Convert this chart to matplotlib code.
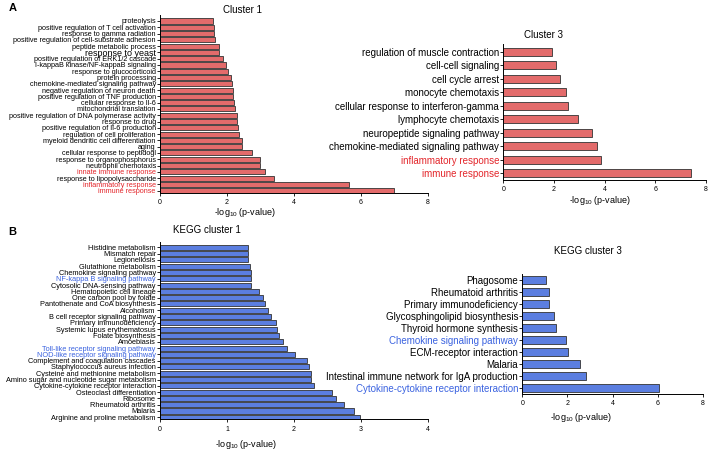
import numpy as np
import matplotlib.pyplot as plt

plt.rcParams['font.family'] = ['Liberation Sans', 'DejaVu Sans']
plt.rcParams['mathtext.default'] = 'regular'

# ---- data ----
go1_terms = ['proteolysis', 'positive regulation of T cell activation', 'response to gamma radiation',
             'positive regulation of cell-substrate adhesion', 'peptide metabolic process', 'response to yeast',
             'positive regulation of ERK1/2 cascade', 'I-kappaB kinase/NF-kappaB signaling',
             'response to glucocorticoid', 'protein processing', 'chemokine-mediated signaling pathway',
             'negative regulation of neuron death', 'positive regulation of TNF production',
             'cellular response to Il-6', 'mitochondrial translation',
             'positive regulation of DNA polymerase activity', 'response to drug',
             'positive regulation of Il-6 production', 'regulation of cell proliferation',
             'myeloid dendritic cell differentiation', 'aging', 'cellular response to peptidogl',
             'response to organophosphorus', 'neutrophil chemotaxis', 'innate immune response',
             'response to lipopolysaccharide', 'inflammatory response', 'immune response']
go1_vals = [1.59, 1.60, 1.61, 1.63, 1.76, 1.76, 1.89, 1.96, 2.04, 2.11, 2.14, 2.17, 2.17, 2.20,
            2.25, 2.31, 2.31, 2.34, 2.37, 2.45, 2.45, 2.74, 2.97, 2.98, 3.12, 3.40, 5.63, 6.98]
go1_red = ['innate immune response', 'inflammatory response', 'immune response']

go3_terms = ['regulation of muscle contraction', 'cell-cell signaling', 'cell cycle arrest',
             'monocyte chemotaxis', 'cellular response to interferon-gamma', 'lymphocyte chemotaxis',
             'neuropeptide signaling pathway', 'chemokine-mediated signaling pathway',
             'inflammatory response', 'immune response']
go3_vals = [1.91, 2.06, 2.25, 2.46, 2.57, 2.94, 3.48, 3.68, 3.87, 7.40]
go3_red = ['inflammatory response', 'immune response']

kegg1_terms = ['Histidine metabolism', 'Mismatch repair', 'Legionellosis', 'Glutathione metabolism',
               'Chemokine signaling pathway', 'NF-kappa B signaling pathway', 'Cytosolic DNA-sensing pathway',
               'Hematopoietic cell lineage', 'One carbon pool by folate', 'Pantothenate and CoA biosynthesis',
               'Alcoholism', 'B cell receptor signaling pathway', 'Primary immunodeficiency',
               'Systemic lupus erythematosus', 'Folate biosynthesis', 'Amoebiasis',
               'Toll-like receptor signaling pathway', 'NOD-like receptor signaling pathway',
               'Complement and coagulation cascades', 'Staphylococcus aureus infection',
               'Cysteine and methionine metabolism', 'Amino sugar and nucleotide sugar metabolism',
               'Cytokine-cytokine receptor interaction', 'Osteoclast differentiation', 'Ribosome',
               'Rheumatoid arthritis', 'Malaria', 'Arginine and proline metabolism']
kegg1_vals = [1.31, 1.31, 1.32, 1.34, 1.36, 1.36, 1.36, 1.47, 1.53, 1.57, 1.61, 1.66, 1.73, 1.74,
              1.78, 1.84, 1.89, 2.01, 2.20, 2.23, 2.26, 2.26, 2.30, 2.56, 2.62, 2.74, 2.90, 2.98]
kegg1_blue = ['NF-kappa B signaling pathway', 'Toll-like receptor signaling pathway',
              'NOD-like receptor signaling pathway']

kegg3_terms = ['Phagosome', 'Rheumatoid arthritis', 'Primary immunodeficiency',
               'Glycosphingolipid biosynthesis', 'Thyroid hormone synthesis', 'Chemokine signaling pathway',
               'ECM-receptor interaction', 'Malaria', 'Intestinal immune network for IgA production',
               'Cytokine-cytokine receptor interaction']
kegg3_vals = [1.04, 1.18, 1.19, 1.41, 1.48, 1.94, 2.04, 2.57, 2.81, 6.08]
kegg3_blue = ['Chemokine signaling pathway', 'Cytokine-cytokine receptor interaction']

red_bar = '#e36b6b'
blue_bar = '#5b7ee0'
red_txt = '#e3262b'
blue_txt = '#3b63e0'
edge = '#333333'

fig = plt.figure(figsize=(7.09, 4.54), dpi=100)


def panel(rect, terms, vals, hl, barc, hlc, xmax, xticks, ylim, bh, lab_fs, tick_fs,
          title, title_xy, title_fs, xlab_xy, xlab_fs):
    ax = fig.add_axes(rect)
    y = np.arange(len(terms))
    ax.barh(y, vals, height=bh, color=barc, edgecolor=edge, linewidth=0.6)
    ax.set_ylim(*ylim)
    ax.set_xlim(0, xmax)
    ax.set_yticks(y)
    ax.set_yticklabels(terms, fontsize=lab_fs)
    for t in ax.get_yticklabels():
        if t.get_text() in hl:
            t.set_color(hlc)
        if t.get_text() == 'response to yeast':
            t.set_fontsize(lab_fs * 1.25)
    ax.set_xticks(xticks)
    ax.tick_params(axis='x', labelsize=tick_fs, length=2.5, width=0.6, pad=2)
    ax.tick_params(axis='y', length=2, width=0.6, pad=1)
    for s in ['top', 'right']:
        ax.spines[s].set_visible(False)
    for s in ['left', 'bottom']:
        ax.spines[s].set_linewidth(0.7)
    ax.text(title_xy[0], title_xy[1], title, transform=ax.transAxes, ha='center', va='center',
            fontsize=title_fs)
    ax.text(xlab_xy[0], xlab_xy[1], '-log$_{10}$ (p-value)', transform=ax.transAxes,
            ha='center', va='center', fontsize=xlab_fs)
    return ax


panel([0.2257, 0.5749, 0.378, 0.392], go1_terms, go1_vals, go1_red, red_bar, red_txt,
      8, [0, 2, 4, 6, 8], (27.37, -0.95), 0.8, 5.2, 5.0,
      'Cluster 1', (0.306, 1.03), 7, (0.317, -0.112), 6.5)

panel([0.710, 0.6035, 0.2858, 0.2995], go3_terms, go3_vals, go3_red, red_bar, red_txt,
      8, [0, 2, 4, 6, 8], (9.5, -0.57), 0.62, 7.0, 5.0,
      'Cluster 3', (0.196, 1.066), 7, (0.477, -0.152), 6.5)

panel([0.2257, 0.076, 0.378, 0.3916], kegg1_terms, kegg1_vals, kegg1_blue, blue_bar, blue_txt,
      4, [0, 1, 2, 3, 4], (27.35, -0.89), 0.8, 5.3, 5.0,
      'KEGG cluster 1', (0.175, 1.066), 7, (0.32, -0.143), 6.5)

panel([0.7367, 0.1322, 0.2544, 0.2643], kegg3_terms, kegg3_vals, kegg3_blue, blue_bar, blue_txt,
      8, [0, 2, 4, 6, 8], (9.47, -0.5), 0.69, 7.0, 5.0,
      'KEGG cluster 3', (0.3625, 1.19), 7, (0.325, -0.2), 6.5)

fig.text(9 / 709, 1 - 8 / 454, 'A', fontsize=8, fontweight='bold', ha='left', va='center')
fig.text(8 / 709, 1 - 232 / 454, 'B', fontsize=8, fontweight='bold', ha='left', va='center')

fig.savefig('out.png', dpi=100)
